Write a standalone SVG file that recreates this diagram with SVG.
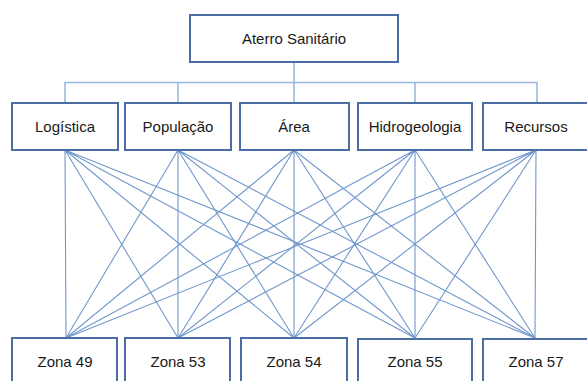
<svg xmlns="http://www.w3.org/2000/svg" width="587" height="381" viewBox="0 0 587 381">
<style>
.box{fill:#fff;stroke:#4a6ea3;stroke-width:2}
.t{font-family:"Liberation Sans",Arial,sans-serif;font-size:15px;fill:#1a1a1a;text-anchor:middle}
.tree{stroke:#9bb9dd;stroke-width:1.6;fill:none}
.x{stroke:#7097cb;stroke-width:1.1;fill:none}
</style>
<rect width="587" height="381" fill="#fff"/>
<g id="connectors">
<path class="tree" d="M294 62V82.5M65 103V82.5H537V103M178 82.5V103M294 82.5V103M415 82.5V103"/>
<g class="x">
<path d="M65 150L66 338M65 150L178 338M65 150L294 338M65 150L415 338M65 150L535 338"/>
<path d="M178 150L66 338M178 150L178 338M178 150L294 338M178 150L415 338M178 150L535 338"/>
<path d="M294 150L66 338M294 150L178 338M294 150L294 338M294 150L415 338M294 150L535 338"/>
<path d="M415 150L66 338M415 150L178 338M415 150L294 338M415 150L415 338M415 150L535 338"/>
<path d="M536 150L66 338M536 150L178 338M536 150L294 338M536 150L415 338M536 150L535 338"/>
</g>
</g>
<g id="aterro"><rect class="box" x="190" y="15" width="208" height="47"/><text class="t" x="294" y="44">Aterro Sanitário</text></g>
<g id="logistica"><rect class="box" x="12" y="103" width="106" height="47"/><text class="t" x="65" y="131.5">Logística</text></g>
<g id="populacao"><rect class="box" x="125" y="103" width="106" height="47"/><text class="t" x="178" y="131.5">População</text></g>
<g id="area"><rect class="box" x="240" y="103" width="109" height="47"/><text class="t" x="294" y="131.5">Área</text></g>
<g id="hidrogeologia"><rect class="box" x="358" y="103" width="114" height="47"/><text class="t" x="415" y="131.5">Hidrogeologia</text></g>
<g id="recursos"><rect class="box" x="483" y="103" width="106" height="47"/><text class="t" x="536" y="131.5">Recursos</text></g>
<g id="zona49"><rect class="box" x="12" y="338" width="105" height="60"/><text class="t" x="65" y="366.5">Zona 49</text></g>
<g id="zona53"><rect class="box" x="125" y="338" width="105" height="60"/><text class="t" x="178" y="366.5">Zona 53</text></g>
<g id="zona54"><rect class="box" x="241" y="338" width="106" height="60"/><text class="t" x="294" y="366.5">Zona 54</text></g>
<g id="zona55"><rect class="box" x="358" y="339" width="114" height="60"/><text class="t" x="415" y="367">Zona 55</text></g>
<g id="zona57"><rect class="box" x="483" y="339" width="106" height="60"/><text class="t" x="536" y="367">Zona 57</text></g>
</svg>
